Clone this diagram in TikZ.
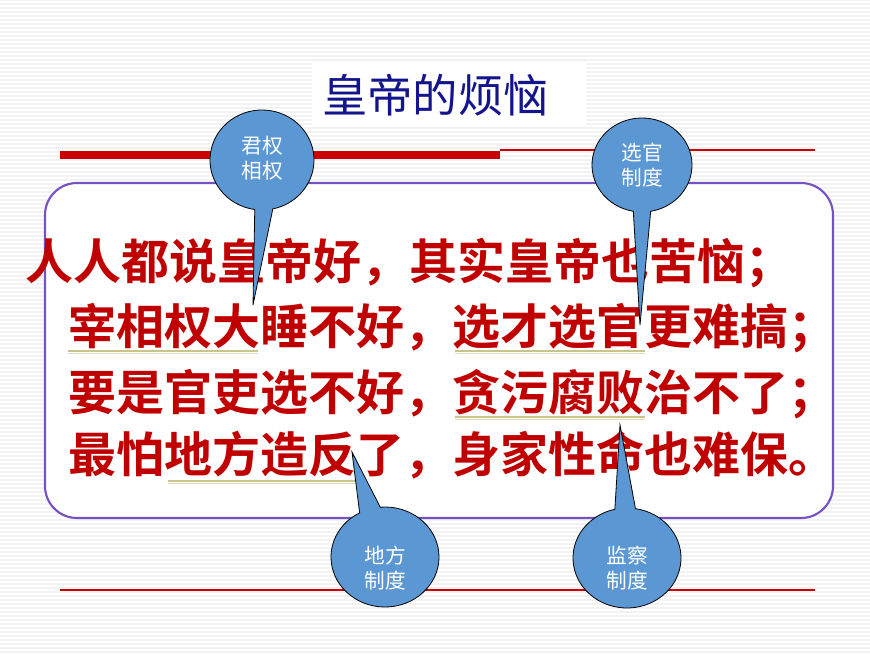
\documentclass[tikz,border=0pt]{standalone}
\usepackage{fontspec}
\newfontfamily\cjk{Noto Sans CJK SC}
\newfontfamily\cjkb{Noto Sans CJK SC Bold}
\begin{document}
\begin{tikzpicture}[x=0.75pt,y=-0.75pt,
  call/.style={draw=black,line width=0.6pt,fill=callblue},
  calltext/.style={text=white,font=\cjk\fontsize{15.5}{19}\selectfont,align=center},
  verse/.style={anchor=base west,inner sep=0pt,text=versered,font=\cjkb\fontsize{36}{40}\selectfont},
  uline/.style={draw=ulcol,line width=1pt}]
\definecolor{callblue}{HTML}{5B97D3}
\definecolor{versered}{HTML}{C00000}
\definecolor{ulcol}{HTML}{C8C48C}
\definecolor{titleblue}{HTML}{14148C}
\definecolor{boxpurple}{HTML}{7452C4}
\useasboundingbox (0,0) rectangle (870,653);
\fill[white] (0,0) rectangle (870,653);
\foreach \yy in {0,4,...,652} \draw[gray!10,line width=1.2pt] (0,\yy) -- (870,\yy);
% title
\fill[white] (312,62) rectangle (586,125);
\node[anchor=base west,inner sep=0pt,text=titleblue,font=\cjk\fontsize{34}{40}\selectfont] (title) at (322,112) {皇帝的烦恼};
% red lines
\draw[red!80!black,line width=6pt] (60,155) -- (500,155);
\draw[red!80!black,line width=0.9pt] (500,150) -- (815,150);
\draw[red!80!black,line width=0.9pt] (60,590) -- (815,590);
% box
\draw[boxpurple,line width=1.6pt,fill=white,rounded corners=24pt] (45,183) rectangle (833,518);
% verses
\node[verse] (l1) at (25,279) {人人都说皇帝好，其实皇帝也苦恼；};
\node[verse] (l2) at (68,344) {宰相权大睡不好，选才选官更难搞；};
\node[verse] (l3) at (68,410) {要是官吏选不好，贪污腐败治不了；};
\node[verse] (l4) at (68,472) {最怕地方造反了，身家性命也难保。};
% underlines
\foreach \xa/\xb/\yy in {68/258/351, 455/645/351, 455/645/417, 168/358/481}{
  \draw[uline] (\xa,\yy) -- (\xb,\yy);
  \draw[uline,ulcol!60] (\xa,\yy+2.5) -- (\xb,\yy+2.5);}
% callouts
\draw[call] (262,160) ++(98:52 and 50) arc[start angle=98,end angle=438,x radius=52,y radius=50] -- (253,305) -- cycle;
\node[calltext] (c1) at (262,158) {君权\\相权};
\draw[call] (642,165) ++(100:50 and 47) arc[start angle=100,end angle=440,x radius=50,y radius=47] -- (640,325) -- cycle;
\node[calltext] (c2) at (642,165) {选官\\制度};
\draw[call] (385,557) ++(265:54 and 50) arc[start angle=265,end angle=602,x radius=54,y radius=50] -- (352,452) -- cycle;
\node[calltext] (c3) at (385,568) {地方\\制度};
\draw[call] (627,558) ++(279:54 and 50) arc[start angle=279,end angle=617,x radius=54,y radius=50] -- (620,425) -- cycle;
\node[calltext] (c4) at (627,568) {监察\\制度};
\end{tikzpicture}
\end{document}
